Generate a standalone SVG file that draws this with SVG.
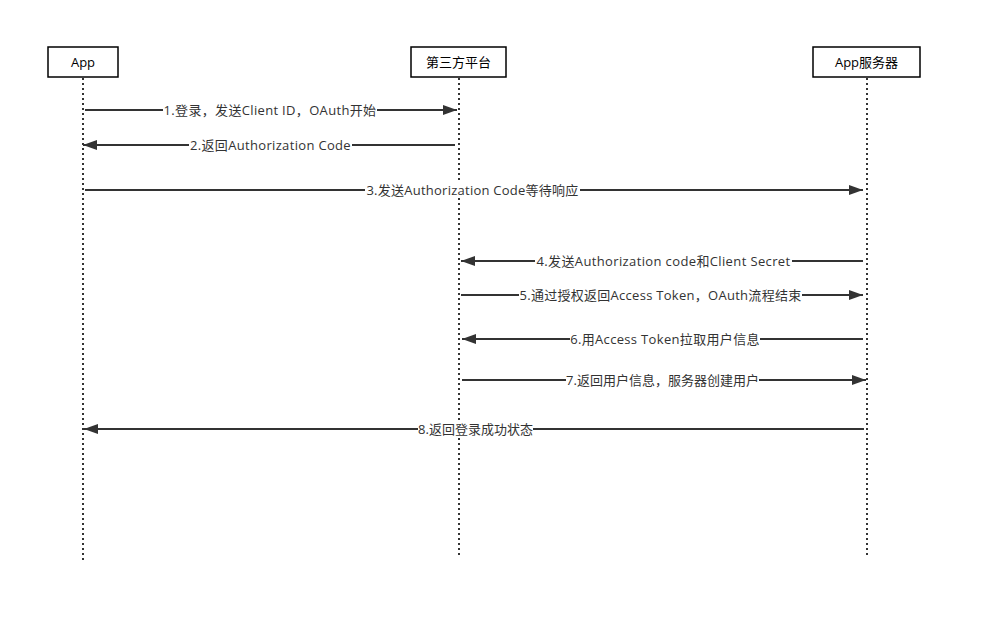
<svg xmlns="http://www.w3.org/2000/svg" width="982" height="625" viewBox="0 0 982 625">
<style>
.box{fill:#fff;stroke:#000;stroke-width:1.5}
.life{stroke:#333;stroke-width:2;stroke-dasharray:2 3;fill:none}
.msg{stroke:#333;stroke-width:2;fill:none}
.t{font-family:"Open Sans","Noto Sans CJK SC",sans-serif;font-size:13px;fill:#333;text-anchor:middle;dominant-baseline:central}
.w{letter-spacing:0.33px}
.n{fill:#000}
.bg{fill:#fff}
</style>
<defs>
<marker id="ah" viewBox="0 0 14 10" refX="14" refY="5" markerWidth="14" markerHeight="10" markerUnits="userSpaceOnUse" orient="auto">
<path d="M0,0 L14,5 L0,10 Z" fill="#333"/>
</marker>
</defs>
<rect width="982" height="625" fill="#fff"/>
<g id="lifelines">
<line class="life" x1="83" y1="78" x2="83" y2="560"/>
<line class="life" x1="459" y1="78" x2="459" y2="555"/>
<line class="life" x1="867" y1="78" x2="867" y2="555"/>
</g>
<g id="node-app">
<rect class="box" x="48" y="47" width="70" height="30"/>
<text class="t n" x="83" y="62">App</text>
</g>
<g id="node-platform">
<rect class="box" x="411" y="47" width="95" height="30"/>
<text class="t n" x="458.5" y="62">第三方平台</text>
</g>
<g id="node-server">
<rect class="box" x="813" y="47" width="107" height="30"/>
<text class="t n" x="866.5" y="62">App服务器</text>
</g>
<g id="connectors">
<line class="msg" x1="85" y1="110" x2="457" y2="110" marker-end="url(#ah)"/>
<line class="msg" x1="455" y1="145" x2="83" y2="145" marker-end="url(#ah)"/>
<line class="msg" x1="85" y1="190" x2="863" y2="190" marker-end="url(#ah)"/>
<line class="msg" x1="863" y1="261" x2="461" y2="261" marker-end="url(#ah)"/>
<line class="msg" x1="461" y1="295" x2="863" y2="295" marker-end="url(#ah)"/>
<line class="msg" x1="863" y1="339" x2="462" y2="339" marker-end="url(#ah)"/>
<line class="msg" x1="462" y1="380" x2="866" y2="380" marker-end="url(#ah)"/>
<line class="msg" x1="864" y1="429" x2="84" y2="429" marker-end="url(#ah)"/>
</g>
<g id="labels">
<rect class="bg" x="163" y="102" width="214" height="16"/>
<text class="t w" x="270" y="110">1.登录，发送Client ID，OAuth开始</text>
<rect class="bg" x="189" y="137" width="163" height="16"/>
<text class="t w" x="270.5" y="145">2.返回Authorization Code</text>
<rect class="bg" x="365" y="182" width="215" height="16"/>
<text class="t" x="472.5" y="190" style="letter-spacing:0.25px">3.发送Authorization Code等待响应</text>
<rect class="bg" x="535" y="253" width="257" height="16"/>
<text class="t" x="663.5" y="261" style="letter-spacing:0.37px">4.发送Authorization code和Client Secret</text>
<rect class="bg" x="519" y="287" width="283" height="16"/>
<text class="t" x="660.5" y="295" style="letter-spacing:0.28px">5.通过授权返回Access Token，OAuth流程结束</text>
<rect class="bg" x="570" y="331" width="190" height="16"/>
<text class="t w" x="665" y="339">6.用Access Token拉取用户信息</text>
<rect class="bg" x="566" y="372" width="193" height="16"/>
<text class="t" x="662.5" y="380">7.返回用户信息，服务器创建用户</text>
<rect class="bg" x="418" y="421" width="115" height="16"/>
<text class="t" x="475.5" y="429">8.返回登录成功状态</text>
</g>
</svg>
